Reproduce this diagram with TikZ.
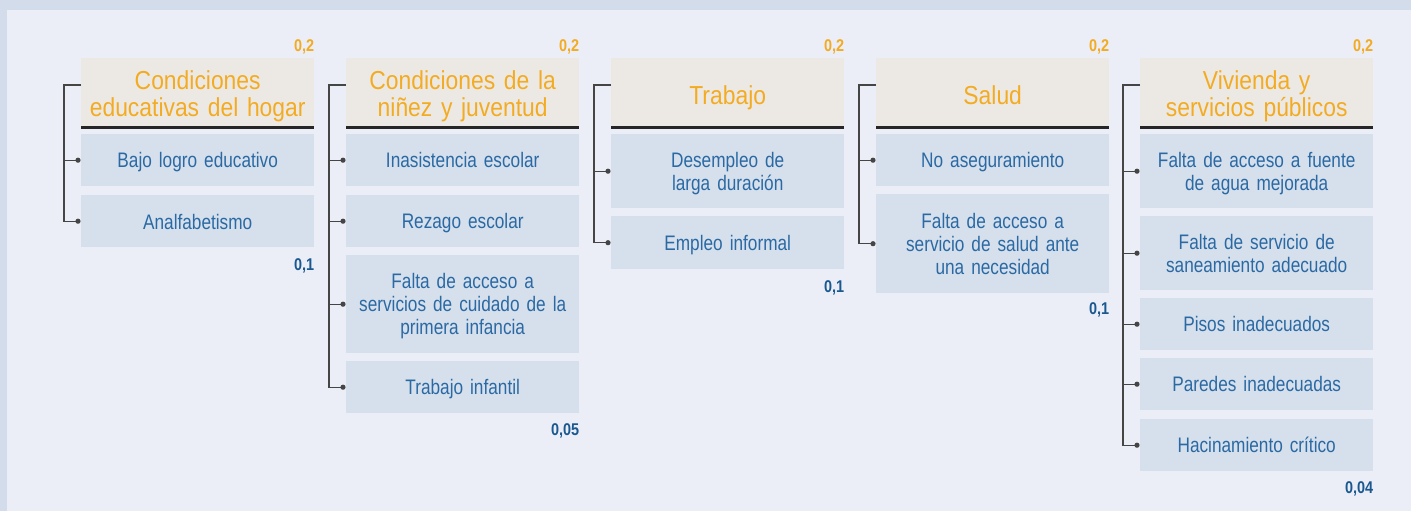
\documentclass[tikz,border=0pt]{standalone}
\usepackage{fontspec}
\setmainfont{Liberation Sans}
\newfontfamily\hdfont{Liberation Sans}[FakeStretch=0.88,WordSpace=0.7]
\newfontfamily\itfont{Liberation Sans}[FakeStretch=0.82,WordSpace=0.65]
\newfontfamily\lbfont{Liberation Sans}[FakeStretch=0.85]
\usetikzlibrary{calc}
\definecolor{outerbg}{HTML}{D3DCEA}
\definecolor{innerbg}{HTML}{EBEEF7}
\definecolor{hdfill}{HTML}{ECE9E4}
\definecolor{itfill}{HTML}{D6E0EC}
\definecolor{orangetxt}{HTML}{F3AB22}
\definecolor{bluetxt}{HTML}{2A69A3}
\definecolor{bluelab}{HTML}{1A5890}
\definecolor{brkcol}{HTML}{454545}
\newcommand{\dn}[2]{\raisebox{-#1}[\height][\depth]{\begin{tabular}{@{}c@{}}#2\end{tabular}}}
\tikzset{
  hdbox/.style={anchor=north west, fill=hdfill, minimum width=233pt, minimum height=68pt,
    text width=229pt, align=center, inner sep=0pt, text=orangetxt,
    font=\hdfont\fontsize{26}{26}\selectfont},
  itbox/.style={anchor=north west, fill=itfill, minimum width=233pt, minimum height=#1pt,
    text width=229pt, align=center, inner sep=0pt, text=bluetxt,
    font=\itfont\fontsize{21}{23}\selectfont},
  toplab/.style={anchor=base east, inner sep=0pt, text=orangetxt, font=\lbfont\bfseries\fontsize{17}{17}\selectfont},
  botlab/.style={anchor=base east, inner sep=0pt, text=bluelab, font=\lbfont\bfseries\fontsize{17}{17}\selectfont},
  hdrule/.style={line width=2.6pt, black!85},
  brk/.style={line width=1.1pt, brkcol},
  dotend/.style={fill=brkcol, draw=none}
}
\newcommand{\brkdot}[1]{\fill[dotend] ($(#1.west)+(-3,0)$) circle (2.6pt);}
\begin{document}
\begin{tikzpicture}[x=1pt,y=-1pt]
\useasboundingbox (0,0) rectangle (1411,511);
\fill[outerbg] (0,0) rectangle (1411,511);
\fill[innerbg] (7,10) rectangle (1411,511);

% ---------- Column 1 ----------
\node[hdbox] (h1) at (81,58) {\dn{5pt}{Condiciones\\educativas del hogar}};
\node[itbox=52] (i11) at (81,134) {\dn{3pt}{Bajo logro educativo}};
\node[itbox=52] (i12) at (81,195) {\dn{4pt}{Analfabetismo}};
\node[toplab] (t1) at ($(h1.north east)+(0,-6)$) {0,2};
\node[botlab] (b1) at ($(i12.south east)+(0,23)$) {0,1};

% ---------- Column 2 ----------
\node[hdbox] (h2) at (346,58) {\dn{5pt}{Condiciones de la\\niñez y juventud}};
\node[itbox=52] (i21) at (346,134) {\dn{3pt}{Inasistencia escolar}};
\node[itbox=52] (i22) at (346,195) {\dn{3pt}{Rezago escolar}};
\node[itbox=98] (i23) at (346,255) {\dn{3pt}{Falta de acceso a\\servicios de cuidado de la\\primera infancia}};
\node[itbox=52] (i24) at (346,361) {\dn{3pt}{Trabajo infantil}};
\node[toplab] (t2) at ($(h2.north east)+(0,-6)$) {0,2};
\node[botlab] (b2) at ($(i24.south east)+(0,22)$) {0,05};

% ---------- Column 3 ----------
\node[hdbox] (h3) at (611,58) {\dn{7pt}{Trabajo}};
\node[itbox=74] (i31) at (611,134) {\dn{3pt}{Desempleo de\\larga duración}};
\node[itbox=53] (i32) at (611,216) {\dn{3pt}{Empleo informal}};
\node[toplab] (t3) at ($(h3.north east)+(0,-6)$) {0,2};
\node[botlab] (b3) at ($(i32.south east)+(0,23)$) {0,1};

% ---------- Column 4 ----------
\node[hdbox] (h4) at (876,58) {\dn{7pt}{Salud}};
\node[itbox=52] (i41) at (876,134) {\dn{3pt}{No aseguramiento}};
\node[itbox=99] (i42) at (876,194) {\dn{3pt}{Falta de acceso a\\servicio de salud ante\\una necesidad}};
\node[toplab] (t4) at ($(h4.north east)+(0,-6)$) {0,2};
\node[botlab] (b4) at ($(i42.south east)+(0,21)$) {0,1};

% ---------- Column 5 ----------
\node[hdbox] (h5) at (1140,58) {\dn{5pt}{Vivienda y\\servicios públicos}};
\node[itbox=74] (i51) at (1140,134) {\dn{3pt}{Falta de acceso a fuente\\de agua mejorada}};
\node[itbox=74] (i52) at (1140,216) {\dn{3pt}{Falta de servicio de\\saneamiento adecuado}};
\node[itbox=52] (i53) at (1140,298) {\dn{3pt}{Pisos inadecuados}};
\node[itbox=52] (i54) at (1140,358) {\dn{3pt}{Paredes inadecuadas}};
\node[itbox=52] (i55) at (1140,419) {\dn{3pt}{Hacinamiento crítico}};
\node[toplab] (t5) at ($(h5.north east)+(0,-6)$) {0,2};
\node[botlab] (b5) at ($(i55.south east)+(0,22)$) {0,04};

% ---------- header rules ----------
\foreach \h in {h1,h2,h3,h4,h5}{
  \draw[hdrule] ($(\h.south west)+(0,1)$) -- ($(\h.south east)+(0,1)$);
}

% ---------- brackets ----------
\draw[brk] ($(h1.north west)+(0,27)$) -- ++(-17,0) coordinate (v1) |- ($(i12.west)+(-3,0)$);
\draw[brk] (v1 |- i11.west) -- ($(i11.west)+(-3,0)$);
\brkdot{i11}\brkdot{i12}

\draw[brk] ($(h2.north west)+(0,27)$) -- ++(-17,0) coordinate (v2) |- ($(i24.west)+(-3,0)$);
\foreach \i in {i21,i22,i23}{\draw[brk] (v2 |- \i.west) -- ($(\i.west)+(-3,0)$);}
\brkdot{i21}\brkdot{i22}\brkdot{i23}\brkdot{i24}

\draw[brk] ($(h3.north west)+(0,27)$) -- ++(-17,0) coordinate (v3) |- ($(i32.west)+(-3,0)$);
\draw[brk] (v3 |- i31.west) -- ($(i31.west)+(-3,0)$);
\brkdot{i31}\brkdot{i32}

\draw[brk] ($(h4.north west)+(0,27)$) -- ++(-17,0) coordinate (v4) |- ($(i42.west)+(-3,0)$);
\draw[brk] (v4 |- i41.west) -- ($(i41.west)+(-3,0)$);
\brkdot{i41}\brkdot{i42}

\draw[brk] ($(h5.north west)+(0,27)$) -- ++(-17,0) coordinate (v5) |- ($(i55.west)+(-3,0)$);
\foreach \i in {i51,i52,i53,i54}{\draw[brk] (v5 |- \i.west) -- ($(\i.west)+(-3,0)$);}
\brkdot{i51}\brkdot{i52}\brkdot{i53}\brkdot{i54}\brkdot{i55}
\end{tikzpicture}
\end{document}
